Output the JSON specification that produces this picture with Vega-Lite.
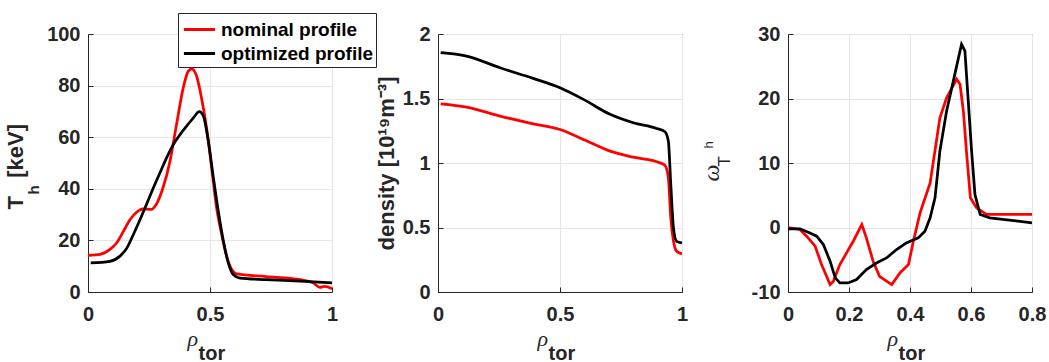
{
  "$schema": "https://vega.github.io/schema/vega-lite/v6.json",
  "padding": {"left": 3, "top": 12, "right": 0, "bottom": 0},
  "background": "#ffffff",
  "spacing": 106,
  "bounds": "flush",
  "config": {
    "font": "Liberation Sans",
    "view": {"stroke": "#262626", "strokeWidth": 1},
    "axis": {
      "labelFont": "Liberation Sans", "labelFontSize": 20, "labelFontWeight": "bold", "labelColor": "#262626",
      "labelFlush": false, "labelOverlap": false,
      "domainColor": "#262626", "tickColor": "#262626", "tickSize": -5,
      "gridColor": "#e6e6e6", "titleColor": "#262626", "titlePadding": 0
    },
    "axisX": {"labelPadding": 17},
    "axisY": {"labelPadding": 13}
  },
  "data": {"values": [
    {"p":1,"s":"nominal profile","x":0,"y":14.2},{"p":1,"s":"nominal profile","x":0.05,"y":14.6},{"p":1,"s":"nominal profile","x":0.09,"y":16.5},{"p":1,"s":"nominal profile","x":0.117,"y":19},{"p":1,"s":"nominal profile","x":0.145,"y":23.5},{"p":1,"s":"nominal profile","x":0.172,"y":28},{"p":1,"s":"nominal profile","x":0.2,"y":31},{"p":1,"s":"nominal profile","x":0.227,"y":32.2},{"p":1,"s":"nominal profile","x":0.26,"y":32},{"p":1,"s":"nominal profile","x":0.28,"y":34},{"p":1,"s":"nominal profile","x":0.306,"y":40},{"p":1,"s":"nominal profile","x":0.336,"y":50.7},{"p":1,"s":"nominal profile","x":0.363,"y":65},{"p":1,"s":"nominal profile","x":0.39,"y":79},{"p":1,"s":"nominal profile","x":0.411,"y":85.6},{"p":1,"s":"nominal profile","x":0.425,"y":86.5},{"p":1,"s":"nominal profile","x":0.445,"y":83.7},{"p":1,"s":"nominal profile","x":0.465,"y":75.3},{"p":1,"s":"nominal profile","x":0.486,"y":63.6},{"p":1,"s":"nominal profile","x":0.507,"y":48},{"p":1,"s":"nominal profile","x":0.527,"y":32.6},{"p":1,"s":"nominal profile","x":0.548,"y":22.3},{"p":1,"s":"nominal profile","x":0.568,"y":13.9},{"p":1,"s":"nominal profile","x":0.589,"y":8.7},{"p":1,"s":"nominal profile","x":0.609,"y":7},{"p":1,"s":"nominal profile","x":0.73,"y":6},{"p":1,"s":"nominal profile","x":0.87,"y":4.8},{"p":1,"s":"nominal profile","x":0.924,"y":3.5},{"p":1,"s":"nominal profile","x":0.95,"y":1.8},{"p":1,"s":"nominal profile","x":0.97,"y":2.2},{"p":1,"s":"nominal profile","x":1.0,"y":1.3},
    {"p":1,"s":"optimized profile","x":0.011,"y":11.3},{"p":1,"s":"optimized profile","x":0.09,"y":11.9},{"p":1,"s":"optimized profile","x":0.131,"y":13.9},{"p":1,"s":"optimized profile","x":0.159,"y":17},{"p":1,"s":"optimized profile","x":0.186,"y":22.3},{"p":1,"s":"optimized profile","x":0.213,"y":28},{"p":1,"s":"optimized profile","x":0.24,"y":34},{"p":1,"s":"optimized profile","x":0.268,"y":40.4},{"p":1,"s":"optimized profile","x":0.295,"y":46.2},{"p":1,"s":"optimized profile","x":0.322,"y":52},{"p":1,"s":"optimized profile","x":0.35,"y":57.2},{"p":1,"s":"optimized profile","x":0.377,"y":61},{"p":1,"s":"optimized profile","x":0.404,"y":64.3},{"p":1,"s":"optimized profile","x":0.432,"y":67.5},{"p":1,"s":"optimized profile","x":0.456,"y":69.9},{"p":1,"s":"optimized profile","x":0.473,"y":68.2},{"p":1,"s":"optimized profile","x":0.493,"y":58.5},{"p":1,"s":"optimized profile","x":0.514,"y":44.2},{"p":1,"s":"optimized profile","x":0.534,"y":31.3},{"p":1,"s":"optimized profile","x":0.555,"y":19.7},{"p":1,"s":"optimized profile","x":0.575,"y":11.3},{"p":1,"s":"optimized profile","x":0.595,"y":6.8},{"p":1,"s":"optimized profile","x":0.623,"y":5.4},{"p":1,"s":"optimized profile","x":0.73,"y":4.8},{"p":1,"s":"optimized profile","x":0.87,"y":4.2},{"p":1,"s":"optimized profile","x":1.0,"y":3.5},
    {"p":2,"s":"nominal profile","x":0.011,"y":1.459},{"p":2,"s":"nominal profile","x":0.117,"y":1.433},{"p":2,"s":"nominal profile","x":0.254,"y":1.364},{"p":2,"s":"nominal profile","x":0.39,"y":1.304},{"p":2,"s":"nominal profile","x":0.5,"y":1.26},{"p":2,"s":"nominal profile","x":0.596,"y":1.183},{"p":2,"s":"nominal profile","x":0.705,"y":1.092},{"p":2,"s":"nominal profile","x":0.8,"y":1.045},{"p":2,"s":"nominal profile","x":0.91,"y":1.001},{"p":2,"s":"nominal profile","x":0.93,"y":0.983},{"p":2,"s":"nominal profile","x":0.944,"y":0.885},{"p":2,"s":"nominal profile","x":0.954,"y":0.574},{"p":2,"s":"nominal profile","x":0.965,"y":0.393},{"p":2,"s":"nominal profile","x":0.978,"y":0.316},{"p":2,"s":"nominal profile","x":1.0,"y":0.295},
    {"p":2,"s":"optimized profile","x":0.011,"y":1.855},{"p":2,"s":"optimized profile","x":0.117,"y":1.829},{"p":2,"s":"optimized profile","x":0.254,"y":1.738},{"p":2,"s":"optimized profile","x":0.39,"y":1.656},{"p":2,"s":"optimized profile","x":0.5,"y":1.583},{"p":2,"s":"optimized profile","x":0.596,"y":1.493},{"p":2,"s":"optimized profile","x":0.705,"y":1.377},{"p":2,"s":"optimized profile","x":0.8,"y":1.312},{"p":2,"s":"optimized profile","x":0.896,"y":1.268},{"p":2,"s":"optimized profile","x":0.93,"y":1.242},{"p":2,"s":"optimized profile","x":0.944,"y":1.17},{"p":2,"s":"optimized profile","x":0.954,"y":0.835},{"p":2,"s":"optimized profile","x":0.965,"y":0.497},{"p":2,"s":"optimized profile","x":0.978,"y":0.393},{"p":2,"s":"optimized profile","x":1.0,"y":0.38},
    {"p":3,"s":"nominal profile","x":0,"y":0},{"p":3,"s":"nominal profile","x":0.039,"y":-0.3},{"p":3,"s":"nominal profile","x":0.061,"y":-1.35},{"p":3,"s":"nominal profile","x":0.089,"y":-2.9},{"p":3,"s":"nominal profile","x":0.11,"y":-5.75},{"p":3,"s":"nominal profile","x":0.138,"y":-8.85},{"p":3,"s":"nominal profile","x":0.149,"y":-8.34},{"p":3,"s":"nominal profile","x":0.17,"y":-5.75},{"p":3,"s":"nominal profile","x":0.192,"y":-3.94},{"p":3,"s":"nominal profile","x":0.214,"y":-2.13},{"p":3,"s":"nominal profile","x":0.242,"y":0.47},{"p":3,"s":"nominal profile","x":0.257,"y":-1.6},{"p":3,"s":"nominal profile","x":0.279,"y":-5.23},{"p":3,"s":"nominal profile","x":0.3,"y":-7.56},{"p":3,"s":"nominal profile","x":0.34,"y":-8.85},{"p":3,"s":"nominal profile","x":0.367,"y":-7.05},{"p":3,"s":"nominal profile","x":0.395,"y":-5.75},{"p":3,"s":"nominal profile","x":0.411,"y":-2.13},{"p":3,"s":"nominal profile","x":0.433,"y":2.27},{"p":3,"s":"nominal profile","x":0.466,"y":6.9},{"p":3,"s":"nominal profile","x":0.498,"y":17},{"p":3,"s":"nominal profile","x":0.52,"y":20.1},{"p":3,"s":"nominal profile","x":0.553,"y":23},{"p":3,"s":"nominal profile","x":0.564,"y":22.2},{"p":3,"s":"nominal profile","x":0.575,"y":18.06},{"p":3,"s":"nominal profile","x":0.585,"y":11.85},{"p":3,"s":"nominal profile","x":0.598,"y":4.6},{"p":3,"s":"nominal profile","x":0.618,"y":3.04},{"p":3,"s":"nominal profile","x":0.651,"y":2.02},{"p":3,"s":"nominal profile","x":0.8,"y":2.02},
    {"p":3,"s":"optimized profile","x":0,"y":-0.2},{"p":3,"s":"optimized profile","x":0.039,"y":-0.2},{"p":3,"s":"optimized profile","x":0.072,"y":-0.84},{"p":3,"s":"optimized profile","x":0.094,"y":-1.35},{"p":3,"s":"optimized profile","x":0.116,"y":-2.64},{"p":3,"s":"optimized profile","x":0.138,"y":-5.23},{"p":3,"s":"optimized profile","x":0.155,"y":-7.8},{"p":3,"s":"optimized profile","x":0.17,"y":-8.6},{"p":3,"s":"optimized profile","x":0.197,"y":-8.6},{"p":3,"s":"optimized profile","x":0.225,"y":-8.07},{"p":3,"s":"optimized profile","x":0.257,"y":-6.52},{"p":3,"s":"optimized profile","x":0.29,"y":-5.5},{"p":3,"s":"optimized profile","x":0.323,"y":-4.72},{"p":3,"s":"optimized profile","x":0.356,"y":-3.42},{"p":3,"s":"optimized profile","x":0.388,"y":-2.39},{"p":3,"s":"optimized profile","x":0.427,"y":-1.61},{"p":3,"s":"optimized profile","x":0.449,"y":-0.57},{"p":3,"s":"optimized profile","x":0.466,"y":1.5},{"p":3,"s":"optimized profile","x":0.482,"y":4.6},{"p":3,"s":"optimized profile","x":0.498,"y":11.85},{"p":3,"s":"optimized profile","x":0.52,"y":18.06},{"p":3,"s":"optimized profile","x":0.542,"y":22.7},{"p":3,"s":"optimized profile","x":0.558,"y":26.1},{"p":3,"s":"optimized profile","x":0.569,"y":28.4},{"p":3,"s":"optimized profile","x":0.58,"y":27.4},{"p":3,"s":"optimized profile","x":0.591,"y":19.6},{"p":3,"s":"optimized profile","x":0.602,"y":11.85},{"p":3,"s":"optimized profile","x":0.613,"y":5.1},{"p":3,"s":"optimized profile","x":0.63,"y":2.02},{"p":3,"s":"optimized profile","x":0.662,"y":1.5},{"p":3,"s":"optimized profile","x":0.8,"y":0.73}
  ]},
  "hconcat": [
    {
      "width": 244, "height": 258,
      "resolve": {"axis": {"x": "independent", "y": "independent"}},
      "layer": [
        {
          "transform": [{"filter": "datum.p == 1 && datum.s == 'nominal profile'"}],
          "mark": {"type": "line", "strokeWidth": 2.75, "interpolate": "monotone"},
          "encoding": {
            "x": {"field": "x", "type": "quantitative", "scale": {"domain": [0, 1]},
                  "axis": {"orient": "bottom", "values": [0, 0.5, 1], "labelExpr": "'' + datum.value", "grid": true,
                           "title": "ρ", "titleFont": "Liberation Serif", "titleFontStyle": "italic", "titleFontWeight": "normal", "titleFontSize": 22,
                           "titleX": 99, "titleY": 53, "titleAlign": "left", "titleBaseline": "alphabetic"}},
            "y": {"field": "y", "type": "quantitative", "scale": {"domain": [0, 100]},
                  "axis": {"orient": "left", "values": [0, 20, 40, 60, 80, 100], "labelExpr": "'' + datum.value", "grid": true,
                           "title": "T\u00a0\u00a0\u00a0[keV]", "titleFontSize": 22, "titleFontWeight": "bold", "titleAngle": 270,
                           "titleX": -66, "titleY": 175, "titleAlign": "left", "titleBaseline": "alphabetic"}},
            "color": {"field": "s", "type": "nominal",
                      "scale": {"domain": ["nominal profile", "optimized profile"], "range": ["#ff0000", "#000000"]},
                      "legend": {"orient": "none", "legendX": 90, "legendY": -21, "title": null,
                                 "symbolType": "M-1.3,0H1.3", "symbolSize": 576, "symbolStrokeWidth": 3,
                                 "labelFontSize": 19, "labelFontWeight": "bold", "labelColor": "#000000",
                                 "strokeColor": "#262626", "fillColor": "#ffffff", "padding": 3, "rowPadding": 0,
                                 "symbolOffset": 5, "labelOffset": 8}}
          }
        },
        {
          "transform": [{"filter": "datum.p == 1 && datum.s == 'optimized profile'"}],
          "mark": {"type": "line", "strokeWidth": 2.75, "interpolate": "monotone"},
          "encoding": {
            "x": {"field": "x", "type": "quantitative", "scale": {"domain": [0, 1]},
                  "axis": {"orient": "bottom", "labels": false, "ticks": false, "domain": false, "grid": false,
                           "title": "tor", "titleFontSize": 20, "titleFontWeight": "bold",
                           "titleX": 110, "titleY": 67, "titleAlign": "left", "titleBaseline": "alphabetic"}},
            "y": {"field": "y", "type": "quantitative", "scale": {"domain": [0, 100]},
                  "axis": {"orient": "left", "labels": false, "ticks": false, "domain": false, "grid": false,
                           "title": "h", "titleFontSize": 15, "titleFontWeight": "bold", "titleAngle": 270,
                           "titleX": -50, "titleY": 160, "titleAlign": "left", "titleBaseline": "alphabetic"}},
            "color": {"field": "s", "type": "nominal",
                      "scale": {"domain": ["nominal profile", "optimized profile"], "range": ["#ff0000", "#000000"]},
                      "legend": {"orient": "none", "legendX": 90, "legendY": -21, "title": null,
                                 "symbolType": "M-1.3,0H1.3", "symbolSize": 576, "symbolStrokeWidth": 3,
                                 "labelFontSize": 19, "labelFontWeight": "bold", "labelColor": "#000000",
                                 "strokeColor": "#262626", "fillColor": "#ffffff", "padding": 3, "rowPadding": 0,
                                 "symbolOffset": 5, "labelOffset": 8}}
          }
        }
      ]
    },
    {
      "width": 244, "height": 258,
      "resolve": {"axis": {"x": "independent", "y": "independent"}},
      "layer": [
        {
          "transform": [{"filter": "datum.p == 2 && datum.s == 'nominal profile'"}],
          "mark": {"type": "line", "strokeWidth": 2.75, "interpolate": "monotone", "color": "#ff0000"},
          "encoding": {
            "x": {"field": "x", "type": "quantitative", "scale": {"domain": [0, 1]},
                  "axis": {"orient": "bottom", "values": [0, 0.5, 1], "labelExpr": "'' + datum.value", "grid": true,
                           "title": "ρ", "titleFont": "Liberation Serif", "titleFontStyle": "italic", "titleFontWeight": "normal", "titleFontSize": 22,
                           "titleX": 99, "titleY": 53, "titleAlign": "left", "titleBaseline": "alphabetic"}},
            "y": {"field": "y", "type": "quantitative", "scale": {"domain": [0, 2]},
                  "axis": {"orient": "left", "values": [0, 0.5, 1, 1.5, 2], "labelExpr": "'' + datum.value", "grid": true,
                           "title": "density [10¹⁹m⁻³]", "titleFontSize": 22, "titleFontWeight": "bold", "titleAngle": 270,
                           "titleX": -45, "titleY": 129, "titleAlign": "center", "titleBaseline": "alphabetic"}}
          }
        },
        {
          "transform": [{"filter": "datum.p == 2 && datum.s == 'optimized profile'"}],
          "mark": {"type": "line", "strokeWidth": 2.75, "interpolate": "monotone", "color": "#000000"},
          "encoding": {
            "x": {"field": "x", "type": "quantitative", "scale": {"domain": [0, 1]},
                  "axis": {"orient": "bottom", "labels": false, "ticks": false, "domain": false, "grid": false,
                           "title": "tor", "titleFontSize": 20, "titleFontWeight": "bold",
                           "titleX": 110, "titleY": 67, "titleAlign": "left", "titleBaseline": "alphabetic"}},
            "y": {"field": "y", "type": "quantitative", "scale": {"domain": [0, 2]}, "axis": null}
          }
        }
      ]
    },
    {
      "width": 244, "height": 258,
      "title": {"text": "h", "orient": "left", "anchor": "middle", "angle": 270, "fontSize": 13, "fontWeight": "normal",
                "font": "Liberation Sans", "color": "#262626", "baseline": "alphabetic", "offset": -27, "dx": 18},
      "resolve": {"axis": {"x": "independent", "y": "independent"}},
      "layer": [
        {
          "transform": [{"filter": "datum.p == 3 && datum.s == 'nominal profile'"}],
          "mark": {"type": "line", "strokeWidth": 2.75, "color": "#ff0000"},
          "encoding": {
            "x": {"field": "x", "type": "quantitative", "scale": {"domain": [0, 0.8]},
                  "axis": {"orient": "bottom", "values": [0, 0.2, 0.4, 0.6, 0.8], "labelExpr": "'' + datum.value", "grid": true,
                           "title": "ρ", "titleFont": "Liberation Serif", "titleFontStyle": "italic", "titleFontWeight": "normal", "titleFontSize": 22,
                           "titleX": 99, "titleY": 53, "titleAlign": "left", "titleBaseline": "alphabetic"}},
            "y": {"field": "y", "type": "quantitative", "scale": {"domain": [-10, 30]},
                  "axis": {"orient": "left", "values": [-10, 0, 10, 20, 30], "labelExpr": "'' + datum.value", "grid": true,
                           "title": "ω", "titleFont": "Liberation Serif", "titleFontStyle": "italic", "titleFontWeight": "normal", "titleFontSize": 24, "titleAngle": 270,
                           "titleX": -70, "titleY": 147, "titleAlign": "left", "titleBaseline": "alphabetic"}}
          }
        },
        {
          "transform": [{"filter": "datum.p == 3 && datum.s == 'optimized profile'"}],
          "mark": {"type": "line", "strokeWidth": 2.75, "color": "#000000"},
          "encoding": {
            "x": {"field": "x", "type": "quantitative", "scale": {"domain": [0, 0.8]},
                  "axis": {"orient": "bottom", "labels": false, "ticks": false, "domain": false, "grid": false,
                           "title": "tor", "titleFontSize": 20, "titleFontWeight": "bold",
                           "titleX": 110, "titleY": 67, "titleAlign": "left", "titleBaseline": "alphabetic"}},
            "y": {"field": "y", "type": "quantitative", "scale": {"domain": [-10, 30]},
                  "axis": {"orient": "left", "labels": false, "ticks": false, "domain": false, "grid": false,
                           "title": "T", "titleFontSize": 17, "titleFontWeight": "normal", "titleAngle": 270,
                           "titleX": -59, "titleY": 132, "titleAlign": "left", "titleBaseline": "alphabetic"}}
          }
        }
      ]
    }
  ]
}
